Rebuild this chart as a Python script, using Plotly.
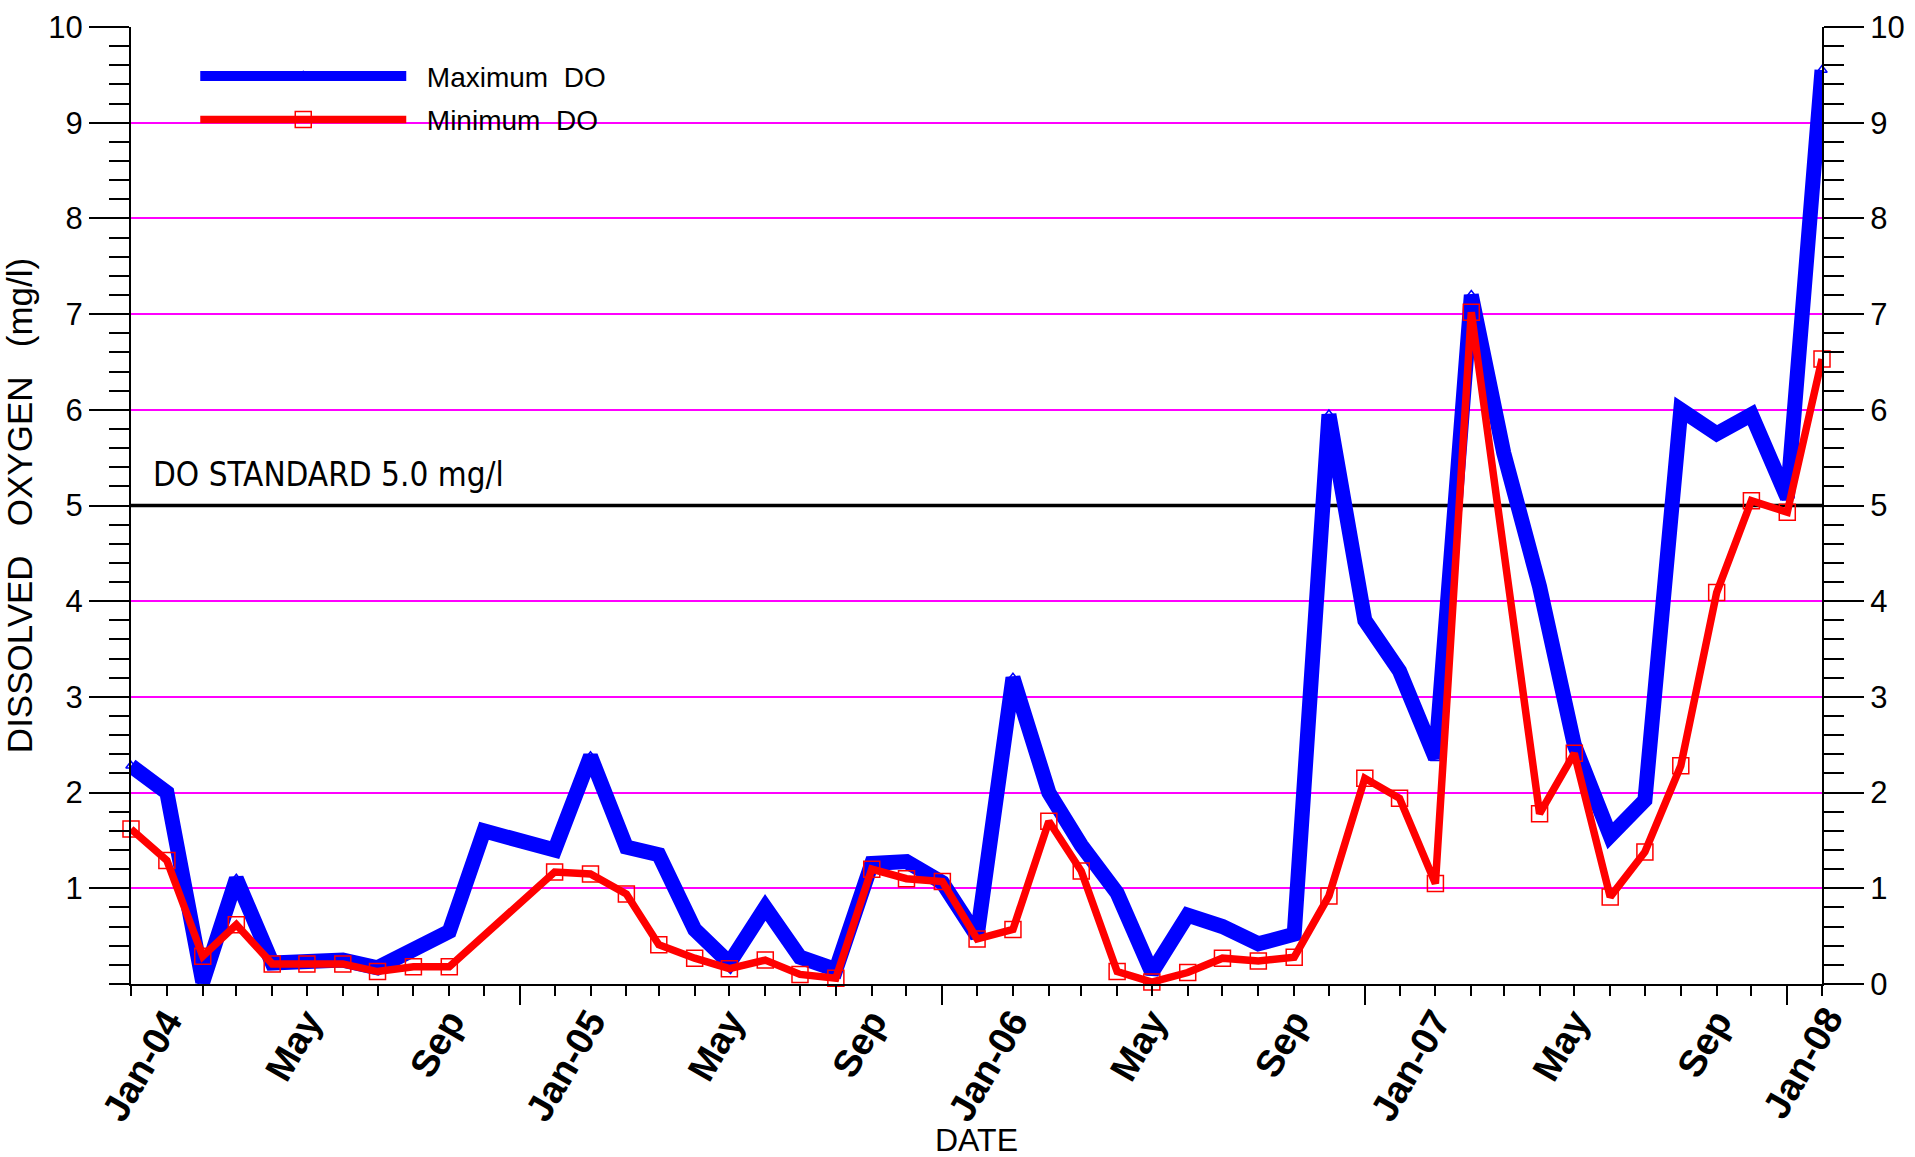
import plotly.graph_objects as go
import pandas as pd

# ---------------- data ----------------
MONTHS = [
    "2003-12-01",
    "2004-01-01", "2004-02-01", "2004-03-01", "2004-04-01", "2004-05-01", "2004-06-01",
    "2004-07-01", "2004-08-01", "2004-09-01", "2004-10-01", "2004-11-01", "2004-12-01",
    "2005-01-01", "2005-02-01", "2005-03-01", "2005-04-01", "2005-05-01", "2005-06-01",
    "2005-07-01", "2005-08-01", "2005-09-01", "2005-10-01", "2005-11-01", "2005-12-01",
    "2006-01-01", "2006-02-01", "2006-03-01", "2006-04-01", "2006-05-01", "2006-06-01",
    "2006-07-01", "2006-08-01", "2006-09-01", "2006-10-01", "2006-11-01", "2006-12-01",
    "2007-01-01", "2007-02-01", "2007-03-01", "2007-04-01", "2007-05-01", "2007-06-01",
    "2007-07-01", "2007-08-01", "2007-09-01", "2007-10-01", "2007-11-01", "2007-12-01",
]

MAX_DO = [
    2.28,
    2.00, 0.02, 1.10, 0.22, 0.22, 0.25,
    0.17, 0.38, 0.55, 1.60, 1.50, 1.40,
    2.38, 1.43, 1.35, 0.57, 0.22, 0.80,
    0.28, 0.15, 1.26, 1.28, 1.06, 0.50,
    3.20, 2.00, 1.45, 0.95, 0.12, 0.72,
    0.60, 0.42, 0.52, 5.95, 3.80, 3.27,
    2.36, 7.20, 5.55, 4.15, 2.50, 1.55,
    1.92, 6.00, 5.75, 5.95, 5.08, 9.55,
]

MIN_DO = [
    1.62,
    1.29, 0.29, 0.62, 0.21, 0.21, 0.21,
    0.13, 0.18, 0.18, None, None, 1.17,
    1.15, 0.94, 0.41, 0.27, 0.16, 0.25,
    0.10, 0.06, 1.20, 1.10, 1.07, 0.47,
    0.57, 1.70, 1.18, 0.13, 0.02, 0.12,
    0.27, 0.24, 0.28, 0.92, 2.15, 1.94,
    1.05, 7.02, None, 1.78, 2.41, 0.91,
    1.38, 2.28, 4.09, 5.05, 4.93, 6.53,
]

DO_STANDARD = 5.0
DO_STANDARD_LABEL = "DO STANDARD 5.0 mg/l"

X_RANGE = ["2003-12-01", "2007-12-01"]
TICK_DATES = ["2004-01-01", "2004-05-01", "2004-09-01",
              "2005-01-01", "2005-05-01", "2005-09-01",
              "2006-01-01", "2006-05-01", "2006-09-01",
              "2007-01-01", "2007-05-01", "2007-09-01",
              "2008-01-01"]
TICK_TEXT = ["Jan-04", "May", "Sep", "Jan-05", "May", "Sep",
             "Jan-06", "May", "Sep", "Jan-07", "May", "Sep", "Jan-08"]
LONG_TICK_DATES = ["2004-11-01", "2005-11-01", "2006-11-01", "2007-11-01"]
Y_LEFT_TICKS = [1, 2, 3, 4, 5, 6, 7, 8, 9, 10]
Y_RIGHT_TICKS = [0, 1, 2, 3, 4, 5, 6, 7, 8, 9, 10]
Y_RANGE = [0, 10]

# ---------------- styling ----------------
FONT = "Liberation Sans, Arial, sans-serif"
NARROW = "Liberation Sans Narrow, Arial Narrow, DejaVu Sans Condensed, Liberation Sans, sans-serif"
MAGENTA = "#FF00FF"
BLUE = "#0000FF"
RED = "#FF0000"
XLABEL_SIZE = 38
XLABEL_ANGLE = -60

x0 = pd.Timestamp(X_RANGE[0])
x1 = pd.Timestamp(X_RANGE[1])
in_dates, in_text, out_labels = [], [], []
for d, t in zip(TICK_DATES, TICK_TEXT):
    ts = pd.Timestamp(d)
    if x0 <= ts <= x1:
        in_dates.append(d)
        in_text.append(t)
    else:
        out_labels.append(((ts - x0) / (x1 - x0), t))

fig = go.Figure()

# DO standard reference line (under the data lines)
fig.add_trace(go.Scatter(
    x=X_RANGE, y=[DO_STANDARD, DO_STANDARD], mode="lines",
    line=dict(color="black", width=3.5), showlegend=False, hoverinfo="skip",
    xaxis="x", yaxis="y",
))

fig.add_trace(go.Scatter(
    x=MONTHS, y=MAX_DO, name="  Maximum  DO", mode="lines+markers",
    line=dict(color=BLUE, width=15),
    marker=dict(symbol="triangle-up-open", size=9, color=BLUE, line=dict(width=1.5, color=BLUE)),
    connectgaps=True, cliponaxis=False, xaxis="x", yaxis="y",
    legendgroup="a",
))
fig.add_trace(go.Scatter(
    x=MONTHS, y=MIN_DO, name="  Minimum  DO", mode="lines+markers",
    line=dict(color=RED, width=7.5),
    marker=dict(symbol="square-open", size=16, color=RED, line=dict(width=1.5, color=RED)),
    connectgaps=True, cliponaxis=False, xaxis="x2", yaxis="y2",
    legendgroup="b",
))

fig.add_annotation(text=DO_STANDARD_LABEL, xref="paper", x=0.012, xanchor="left",
                   yref="y", y=DO_STANDARD, yanchor="bottom", yshift=10, showarrow=False,
                   font=dict(family=NARROW, size=33, color="black"))

fig.add_annotation(text="DATE", xref="paper", x=0.5, xanchor="center",
                   yref="paper", y=-0.163, yanchor="middle", showarrow=False,
                   font=dict(family=FONT, size=32, color="black"))

for frac, t in out_labels:
    fig.add_annotation(text=t, xref="paper", x=frac, yref="paper", y=0, xanchor="right",
                       yanchor="top", yshift=-14, xshift=-4, textangle=XLABEL_ANGLE, showarrow=False,
                       font=dict(family=FONT, size=XLABEL_SIZE, color="black", weight="bold"))

tick_common = dict(ticks="outside", tickcolor="black", tickwidth=2)

fig.update_layout(
    width=1915, height=1157,
    margin=dict(l=131, r=93, t=27, b=173, autoexpand=False),
    paper_bgcolor="white", plot_bgcolor="white",
    font=dict(family=FONT, color="black"),
    showlegend=True,
    legend=dict(x=0.038, y=0.9745, xanchor="left", yanchor="top", bgcolor="rgba(0,0,0,0)",
                font=dict(family=FONT, size=28, color="black"), itemwidth=206,
                traceorder="grouped", tracegroupgap=4),
    xaxis=dict(type="date", range=X_RANGE, showline=True, linecolor="black", linewidth=2,
               showgrid=False, zeroline=False, tickmode="array", tickvals=in_dates, ticktext=in_text,
               ticklen=10, tickangle=XLABEL_ANGLE, ticklabelstandoff=-12, ticklabelshift=0,
               tickfont=dict(family=FONT, size=XLABEL_SIZE, color="black", weight="bold"),
               minor=dict(ticks="outside", ticklen=10, tickwidth=2, tickcolor="black",
                          dtick="M1", tick0=X_RANGE[0], showgrid=False),
               automargin=False, **tick_common),
    xaxis2=dict(type="date", range=X_RANGE, overlaying="x", anchor="y2", side="bottom",
                showline=False, showgrid=False, zeroline=False, tickmode="array",
                tickvals=LONG_TICK_DATES, showticklabels=False, ticklen=20, automargin=False,
                **tick_common),
    yaxis=dict(range=Y_RANGE, showline=True, linecolor="black", linewidth=2, zeroline=False,
               showgrid=True, gridcolor=MAGENTA, gridwidth=2, tickmode="array", tickvals=Y_LEFT_TICKS,
               ticklen=40, tickfont=dict(family=FONT, size=31, color="black"),
               minor=dict(ticks="outside", ticklen=20, tickwidth=2, tickcolor="black",
                          dtick=0.2, tick0=0, showgrid=False),
               title=dict(text="DISSOLVED   OXYGEN   (mg/l)",
                          font=dict(family=FONT, size=35, color="black"), standoff=8),
               automargin=False, **tick_common),
    yaxis2=dict(range=Y_RANGE, overlaying="y", side="right", anchor="x2", showline=True,
                linecolor="black", linewidth=2, zeroline=False, showgrid=False, tickmode="array",
                tickvals=Y_RIGHT_TICKS, ticklen=40, tickfont=dict(family=FONT, size=31, color="black"),
                minor=dict(ticks="outside", ticklen=20, tickwidth=2, tickcolor="black",
                           dtick=0.2, tick0=0, showgrid=False),
                automargin=False, **tick_common),
)

fig.write_html("out.html", config={"displayModeBar": False},
               post_script="document.body.style.margin='0';")
